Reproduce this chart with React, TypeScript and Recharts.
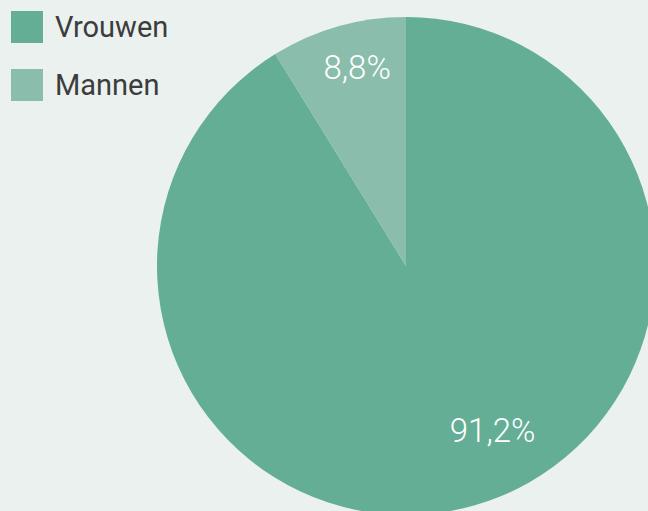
import { PieChart, Pie, Cell } from "recharts";

const categories = ["Vrouwen", "Mannen"];
const shares = [91.2, 8.8];
const colors = ["#64ae96", "#8abdab"];

const data = categories.map((name, i) => ({ name, value: shares[i] }));

const RADIAN = Math.PI / 180;

const renderLabel = (props: any) => {
  const { cx, cy, midAngle, outerRadius, index, value } = props;
  // nudge labels a bit, the big slice label sits closer to the lower right
  const angle = midAngle + (index === 0 ? 12 : -2);
  const r = outerRadius * (index === 0 ? 0.745 : 0.82);
  const x = cx + r * Math.cos(-angle * RADIAN);
  const y = cy + r * Math.sin(-angle * RADIAN);
  return (
    <text
      x={x}
      y={y}
      fill="#ffffff"
      textAnchor="middle"
      dominantBaseline="central"
      fontFamily="Roboto, sans-serif"
      fontWeight={300}
      fontSize={33}
    >
      {`${value.toFixed(1).replace(".", ",")}%`}
    </text>
  );
};

const ChartLegend = () => (
  <div style={{ position: "absolute", top: 11, left: 11, fontFamily: "Roboto, sans-serif" }}>
    {data.map((entry, i) => (
      <div
        key={entry.name}
        style={{ display: "flex", alignItems: "center", height: 32, marginBottom: 26 }}
      >
        <div style={{ width: 32, height: 32, background: colors[i], marginRight: 12 }} />
        <span style={{ fontSize: 29, color: "#3c3c3c", lineHeight: "32px" }}>{entry.name}</span>
      </div>
    ))}
  </div>
);

export default function App() {
  return (
    <div
      style={{
        position: "fixed",
        top: 0,
        left: 0,
        width: 648,
        height: 511,
        background: "#eaf1ee",
        overflow: "hidden",
      }}
    >
      <PieChart width={648} height={511} margin={{ top: 0, right: 0, bottom: 0, left: 0 }}>
        <Pie
          data={data}
          dataKey="value"
          nameKey="name"
          cx={406}
          cy={266}
          outerRadius={249}
          startAngle={90}
          endAngle={-270}
          stroke="none"
          labelLine={false}
          label={renderLabel}
          isAnimationActive={false}
        >
          {data.map((entry, i) => (
            <Cell key={`cell-${entry.name}`} fill={colors[i]} />
          ))}
        </Pie>
      </PieChart>
      <ChartLegend />
    </div>
  );
}
